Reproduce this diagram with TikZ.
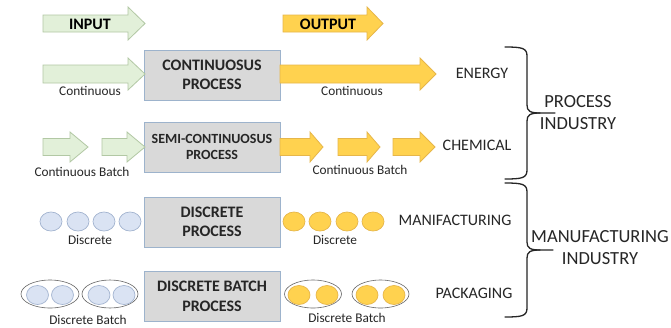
\documentclass[tikz,border=0pt]{standalone}
\usepackage{fontspec}
\setmainfont{Carlito}
\definecolor{grfill}{HTML}{E2F0D9}
\definecolor{grdraw}{HTML}{B2C8A4}
\definecolor{orfill}{HTML}{FFD24F}
\definecolor{ordraw}{HTML}{E6B64A}
\definecolor{boxfill}{HTML}{D9D9D9}
\definecolor{boxdraw}{HTML}{9DB3CC}
\definecolor{blfill}{HTML}{DAE3F3}
\definecolor{bldraw}{HTML}{A3B4D0}
\definecolor{txt}{HTML}{262626}
\newcommand\blkarrow[7]{%
  \draw[#1] (#2,#5-#6) -- (#3,#5-#6) -- (#3,#5-#7) -- (#4,#5) -- (#3,#5+#7) -- (#3,#5+#6) -- (#2,#5+#6) -- cycle;}
\tikzset{
  garrow/.style={fill=grfill,draw=grdraw,line width=0.8pt,line join=miter},
  oarrow/.style={fill=orfill,draw=ordraw,line width=0.8pt,line join=miter},
  procbox/.style={rectangle,fill=boxfill,draw=boxdraw,line width=0.9pt,minimum width=136pt,minimum height=50pt,inner sep=0pt,align=center,text=txt,font=\bfseries\fontsize{16}{19.5}\selectfont},
  small/.style={inner sep=0pt,text=txt,font=\fontsize{13.3}{15}\selectfont},
  outlabel/.style={inner sep=0pt,text=txt,font=\fontsize{16}{19}\selectfont},
  biglabel/.style={inner sep=0pt,text=txt,align=center,font=\fontsize{18.5}{22}\selectfont},
  hdr/.style={inner sep=0pt,text=black,font=\bfseries\fontsize{16}{19}\selectfont},
  bcirc/.style={fill=blfill,draw=bldraw,line width=0.7pt},
  ocirc/.style={fill=orfill,draw=ordraw,line width=0.7pt},
  batch/.style={draw=gray!80!black,line width=0.6pt,fill=white},
  brace/.style={draw=black!85,line width=1.3pt,line cap=round}
}
\begin{document}
\begin{tikzpicture}[x=1pt,y=-1pt]
\useasboundingbox[fill=white] (0,0) rectangle (671,327);
% header
\blkarrow{garrow}{43}{128}{145}{23.5}{8.5}{16.5}
\node[hdr] (inlab) at (90,24) {INPUT};
\blkarrow{oarrow}{283}{367}{383}{23.5}{8.5}{16.5}
\node[hdr] (outlab) at (328,24) {OUTPUT};
% row 1
\node[procbox] (cont) at (212,75) {CONTINUOSUS\\PROCESS};
\blkarrow{garrow}{43}{128}{145}{74}{9}{16}
\blkarrow{oarrow}{280}{420}{436}{74}{9}{16}
\node[small] (c1) at (90,91) {Continuous};
\node[small] (c2) at (352,91) {Continuous};
\node[outlabel] (energy) at (482,73) {ENERGY};
% row 2
\node[procbox,font=\bfseries\fontsize{14}{15.5}\selectfont] (semi) at (212,147) {SEMI-CONTINUOSUS\\PROCESS};
\blkarrow{garrow}{43}{70}{88}{147}{8.5}{15}
\blkarrow{garrow}{102}{127}{145}{147}{8.5}{15}
\blkarrow{oarrow}{280}{310}{323}{147}{8.5}{15}
\blkarrow{oarrow}{338}{367}{380}{147}{8.5}{15}
\blkarrow{oarrow}{393}{420}{435}{147}{8.5}{15}
\node[small] (cb1) at (82,172) {Continuous Batch};
\node[small] (cb2) at (360,170) {Continuous Batch};
\node[outlabel] (chem) at (477,145) {CHEMICAL};
% row 3
\node[procbox] (disc) at (212,222) {DISCRETE\\PROCESS};
\foreach \x in {51,78,104,130}
  \draw[bcirc] (\x,221.5) ellipse[x radius=11,y radius=9.5];
\foreach \x in {294,320,347,373}
  \draw[ocirc] (\x,221.5) ellipse[x radius=11,y radius=9.5];
\node[small] (d1) at (90,240) {Discrete};
\node[small] (d2) at (335,240) {Discrete};
\node[outlabel] (manif) at (455,220) {MANIFACTURING};
% row 4
\node[procbox] (dbatch) at (212,296.5) {DISCRETE BATCH\\PROCESS};
\draw[batch] (50,294) ellipse[x radius=29,y radius=14];
\draw[batch] (110,294) ellipse[x radius=28,y radius=14];
\foreach \x in {37.5,62.5,99,124}
  \draw[bcirc] (\x,295) ellipse[x radius=11,y radius=9.5];
\draw[batch] (313,294) ellipse[x radius=28.5,y radius=14];
\draw[batch] (380.5,294) ellipse[x radius=28.5,y radius=14];
\foreach \x in {299,327,367,394}
  \draw[ocirc] (\x,295) ellipse[x radius=11,y radius=9.5];
\node[small] (db1) at (88,320) {Discrete Batch};
\node[small] (db2) at (347,318) {Discrete Batch};
\node[outlabel] (pack) at (474,293) {PACKAGING};
% braces
\draw[brace] (505,47) .. controls (522,47) and (527,48) .. (527,56) -- (527,105)
  .. controls (527,111) and (530,113) .. (540,113) -- (555,113);
\draw[brace] (540,113) .. controls (530,113) and (527,115) .. (527,121) -- (527,170)
  .. controls (527,178) and (522,179) .. (505,179);
\draw[brace] (505,183) .. controls (522,183) and (527,184) .. (527,192) -- (527,242)
  .. controls (527,248) and (530,250) .. (540,250) -- (553,250);
\draw[brace] (540,250) .. controls (530,250) and (527,252) .. (527,258) -- (527,308)
  .. controls (527,316) and (522,317) .. (505,317);
\node[biglabel] (proc) at (578,113) {PROCESS\\INDUSTRY};
\node[biglabel] (manu) at (600,248) {MANUFACTURING\\INDUSTRY};
\end{tikzpicture}
\end{document}
